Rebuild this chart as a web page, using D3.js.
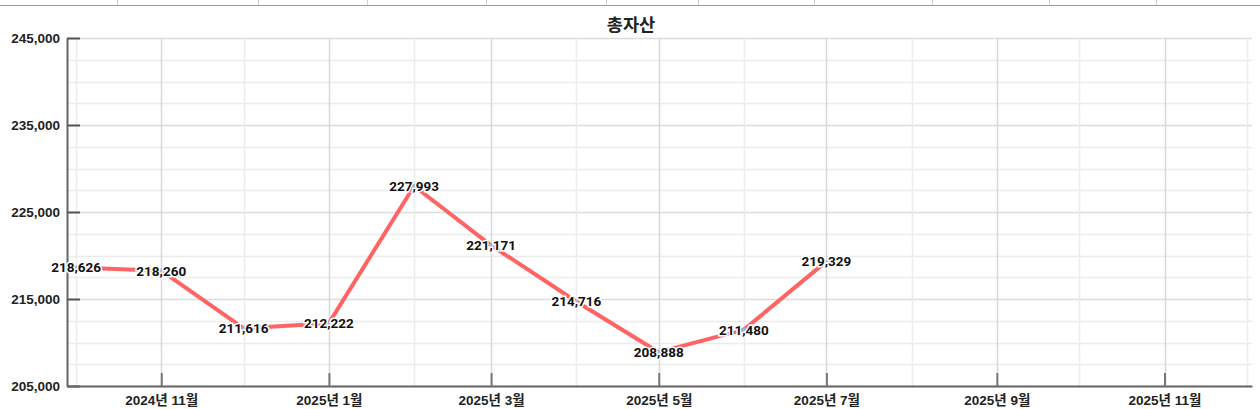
<!DOCTYPE html>
<html>
<head>
<meta charset="utf-8">
<script src="https://cdn.jsdelivr.net/npm/d3@7"></script>
<style>
  body { margin: 0; background: #fff; }
  svg { display: block; }
  text { font-family: "Liberation Sans", Arial, "Noto Sans CJK KR", sans-serif; }
</style>
</head>
<body>
<div id="chart"></div>
<script>
// months shown on the x axis
var months = ["2024-10", "2024-11", "2024-12", "2025-01", "2025-02", "2025-03", "2025-04",
              "2025-05", "2025-06", "2025-07", "2025-08", "2025-09", "2025-10", "2025-11", "2025-12"];
// total assets per month, starting 2024-10
var values = [218626, 218260, 211616, 212222, 227993, 221171, 214716, 208888, 211480, 219329];
var yTicks = [205000, 215000, 225000, 235000, 245000];
var title = "총자산";

var W = 1260, H = 409;
var margin = {top: 38, right: 8, bottom: 23, left: 67};
var width = W - margin.left - margin.right;
var height = H - margin.top - margin.bottom;

var parse = d3.timeParse("%Y-%m");
var dates = months.map(parse);

var svg = d3.select("#chart").append("svg")
  .attr("width", W)
  .attr("height", H);

// spreadsheet header strip behind the chart
var strip = [117, 258, 367, 486, 606, 698, 814, 932, 1049, 1156];
svg.append("line").attr("x1", 0).attr("x2", W).attr("y1", 5.5).attr("y2", 5.5)
  .attr("stroke", "#9a9a9a").attr("stroke-width", 1);
svg.selectAll(".strip").data(strip).enter().append("line")
  .attr("x1", d => d + 0.5).attr("x2", d => d + 0.5)
  .attr("y1", 0).attr("y2", 5)
  .attr("stroke", "#d0d0d0");

var plot = svg.append("g")
  .attr("transform", "translate(" + margin.left + "," + margin.top + ")");

var x = d3.scaleTime()
  .domain([new Date(2024, 8, 27, 17), new Date(2025, 11, 2, 20)])
  .range([0, width]);
var y = d3.scaleLinear().domain([205000, 245000]).range([height, 0]);

// grid
var minorY = d3.range(205000, 245001, 2500);
plot.selectAll(".gy").data(minorY).enter().append("line")
  .attr("x1", 0).attr("x2", width)
  .attr("y1", d => Math.round(y(d)) + 0.5).attr("y2", d => Math.round(y(d)) + 0.5)
  .attr("stroke", d => d % 10000 == 5000 ? "#dcdcdc" : "#ececec")
  .attr("stroke-width", 1.5);

plot.selectAll(".gx").data(dates).enter().append("line")
  .attr("x1", d => Math.round(x(d)) + 0.5).attr("x2", d => Math.round(x(d)) + 0.5)
  .attr("y1", 0).attr("y2", height)
  .attr("stroke", (d, i) => i % 2 == 1 ? "#d8d8d8" : "#ececec")
  .attr("stroke-width", 1.5);

// axes
var yAxisCall = d3.axisLeft(y).tickValues(yTicks).tickSizeInner(-13).tickSizeOuter(0)
  .tickPadding(20).tickFormat(d3.format(","));
var yAxis = plot.append("g").call(yAxisCall);
yAxis.select(".domain").attr("stroke", "#666").attr("stroke-width", 2);
yAxis.selectAll(".tick line").attr("stroke", "#555").attr("stroke-width", 2);
yAxis.selectAll(".tick text").attr("font-size", 13.5).attr("font-weight", "bold")
  .attr("fill", "#222").attr("dx", 13);

var labelDates = dates.filter((d, i) => i % 2 == 1);
var xAxisCall = d3.axisBottom(x).tickValues(labelDates).tickSizeInner(-13).tickSizeOuter(0)
  .tickPadding(19)
  .tickFormat(d => d.getFullYear() + "년 " + (d.getMonth() + 1) + "월");
var xAxis = plot.append("g").attr("transform", "translate(0," + height + ")").call(xAxisCall);
xAxis.select(".domain").attr("stroke", "#666").attr("stroke-width", 2);
xAxis.selectAll(".tick line").attr("stroke", "#777").attr("stroke-width", 2);
xAxis.selectAll(".tick text").attr("font-size", 13.5).attr("font-weight", "bold")
  .attr("fill", "#222").attr("dy", "0");

// title
svg.append("text")
  .attr("x", 631).attr("y", 31)
  .attr("text-anchor", "middle")
  .attr("font-size", 17.5).attr("font-weight", "bold").attr("fill", "#222")
  .text(title);

// line
var line = d3.line().x((d, i) => x(dates[i])).y(d => y(d));
plot.append("path").datum(values)
  .attr("d", line)
  .attr("fill", "none")
  .attr("stroke", "#ff6464")
  .attr("stroke-width", 4)
  .attr("stroke-linejoin", "round");

// small markers
plot.selectAll(".pt").data(values).enter().append("circle")
  .attr("cx", (d, i) => x(dates[i])).attr("cy", d => y(d))
  .attr("r", 2).attr("fill", "#8ab4f8");

// value labels with white halo
plot.selectAll(".lbl").data(values).enter().append("text")
  .attr("x", (d, i) => x(dates[i])).attr("y", d => y(d) + 5)
  .attr("text-anchor", "middle")
  .style("font-family", "Roboto, sans-serif")
  .attr("font-size", 13.5).attr("font-weight", "bold").attr("fill", "#111")
  .attr("stroke", "#fff").attr("stroke-width", 3).attr("paint-order", "stroke")
  .text(d => d3.format(",")(d));
</script>
</body>
</html>
